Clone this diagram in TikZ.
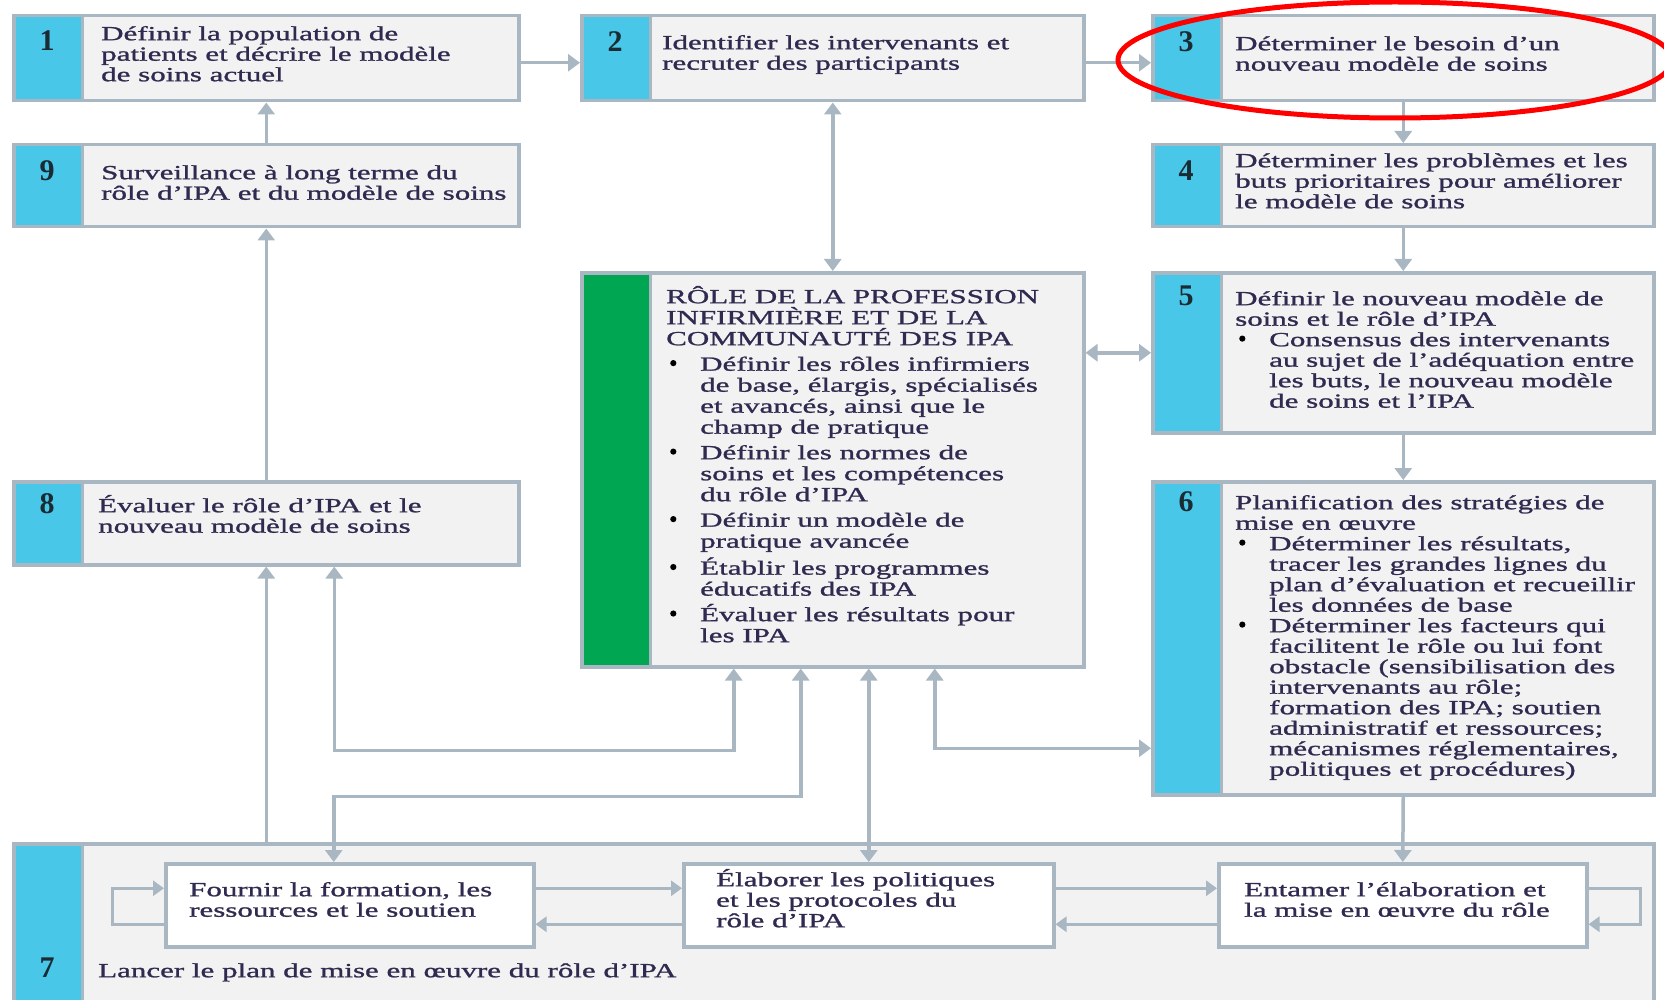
\documentclass[tikz,border=0pt]{standalone}
\usepackage{fontspec}
\setmainfont{Liberation Serif}[FakeStretch=1.55,FakeBold=1.2]
\newfontfamily\numfont{Liberation Serif}
\usetikzlibrary{arrows.meta,shapes.geometric}
\definecolor{cyanstrip}{HTML}{48C7E8}
\definecolor{greenstrip}{HTML}{00A651}
\definecolor{boxfill}{HTML}{F2F2F2}
\definecolor{lineg}{HTML}{A8B7C1}
\definecolor{txt}{HTML}{2F2A4F}
\definecolor{numc}{HTML}{1B2B33}
\newcommand\fst{\rule{0pt}{18pt}}
\newcommand\bul{\makebox[34pt][l]{\hspace{4pt}\raisebox{4.5pt}{\tikz\fill[black] (0,0) circle[radius=3.1pt];}}}
\newcommand\ind{\hspace*{34pt}}
\begin{document}
\begin{tikzpicture}[x=1pt,y=-1pt,
  stepbox/.style={draw=lineg, line width=3.5pt, fill=boxfill, rectangle, inner sep=0pt, anchor=north west,
    path picture={\fill[#1] (path picture bounding box.north west) rectangle ([xshift=69pt]path picture bounding box.south west);
      \draw[lineg, line width=3pt] ([xshift=69pt]path picture bounding box.north west) -- ([xshift=69pt]path picture bounding box.south west);}},
  stepbox/.default=cyanstrip,
  subbox/.style={draw=lineg, line width=3.5pt, fill=white, rectangle, inner sep=0pt, anchor=north west, minimum height=83pt},
  conn/.style={draw=lineg, line width=3.5pt, -{Triangle[length=12pt,width=17pt]}},
  dconn/.style={draw=lineg, line width=3.5pt, {Triangle[length=12pt,width=17pt]}-{Triangle[length=12pt,width=17pt]}},
  sconn/.style={draw=lineg, line width=3pt, -{Triangle[length=11pt,width=15pt]}},
  num/.style={font=\numfont\bfseries\fontsize{30}{30}\selectfont, text=numc, inner sep=0pt},
  lbl/.style={font=\fontsize{20}{20.5}\selectfont, text=txt, align=left, anchor=north west, inner sep=0pt},
  lblc/.style={font=\fontsize{20}{21}\selectfont, text=txt, align=left, anchor=north west, inner sep=0pt}
]
\useasboundingbox (0,0) rectangle (1664,1000);
\clip (0,0) rectangle (1664,1000);

% boxes
\node[stepbox, minimum width=505pt, minimum height=85pt] (b1) at (12,14) {};
\node[stepbox, minimum width=505pt, minimum height=82pt] (b9) at (12,143) {};
\node[stepbox, minimum width=505pt, minimum height=83pt] (b8) at (12,480) {};
\node[stepbox, minimum width=502pt, minimum height=85pt] (b2) at (580,14) {};
\node[stepbox=greenstrip, minimum width=502pt, minimum height=394pt] (bc) at (580,271) {};
\node[stepbox, minimum width=501pt, minimum height=85pt] (b3) at (1151,14) {};
\node[stepbox, minimum width=501pt, minimum height=82pt] (b4) at (1151,143) {};
\node[stepbox, minimum width=501pt, minimum height=160pt] (b5) at (1151,271) {};
\node[stepbox, minimum width=501pt, minimum height=313pt] (b6) at (1151,480) {};
\node[stepbox, minimum width=1640pt, minimum height=170pt] (b7) at (12,842) {};
\node[subbox, minimum width=368pt] (f1) at (164,862) {};
\node[subbox, minimum width=370pt] (f2) at (682,862) {};
\node[subbox, minimum width=368pt] (f3) at (1217,862) {};

% numbers
\node[num] (n1) at (47,41) {1};
\node[num] (n9) at (47,171) {9};
\node[num] (n8) at (47,504) {8};
\node[num] (n7) at (47,968) {7};
\node[num] (n2) at (615,42) {2};
\node[num] (n3) at (1186,42) {3};
\node[num] (n4) at (1186,171) {4};
\node[num] (n5) at (1186,296) {5};
\node[num] (n6) at (1186,502) {6};

% texts
\node[lbl] (t1) at (101,22) {\fst Définir la population de\\patients et décrire le modèle\\de soins actuel};
\node[lbl] (t9) at (101,161) {\fst Surveillance à long terme du\\rôle d’IPA et du modèle de soins};
\node[lbl] (t8) at (98,494) {\fst Évaluer le rôle d’IPA et le\\nouveau modèle de soins};
\node[lbl] (t2) at (662,31) {\fst Identifier les intervenants et\\recruter des participants};
\node[lbl] (t3) at (1235,32) {\fst Déterminer le besoin d’un\\nouveau modèle de soins};
\node[lbl] (t4) at (1235,149) {\fst Déterminer les problèmes et les\\buts prioritaires pour améliorer\\le modèle de soins};
\node[lbl] (t5) at (1235,287) {\fst Définir le nouveau modèle de\\soins et le rôle d’IPA\\\bul Consensus des intervenants\\\ind au sujet de l’adéquation entre\\\ind les buts, le nouveau modèle\\\ind de soins et l’IPA};
\node[lbl] (t6) at (1235,491) {\fst Planification des stratégies de\\mise en œuvre\\\bul Déterminer les résultats,\\\ind tracer les grandes lignes du\\\ind plan d’évaluation et recueillir\\\ind les données de base\\\bul Déterminer les facteurs qui\\\ind facilitent le rôle ou lui font\\\ind obstacle (sensibilisation des\\\ind intervenants au rôle;\\\ind formation des IPA; soutien\\\ind administratif et ressources;\\\ind mécanismes réglementaires,\\\ind politiques et procédures)};
\node[lblc] (tc) at (666,285) {\fst RÔLE DE LA PROFESSION\\INFIRMIÈRE ET DE LA\\COMMUNAUTÉ DES IPA\\[4.5pt]\bul Définir les rôles infirmiers\\\ind de base, élargis, spécialisés\\\ind et avancés, ainsi que le\\\ind champ de pratique\\[4.5pt]\bul Définir les normes de\\\ind soins et les compétences\\\ind du rôle d’IPA\\[4.5pt]\bul Définir un modèle de\\\ind pratique avancée\\[4.5pt]\bul Établir les programmes\\\ind éducatifs des IPA\\[4.5pt]\bul Évaluer les résultats pour\\\ind les IPA};
\node[lbl] (tf1) at (189,878) {\fst Fournir la formation, les\\ressources et le soutien};
\node[lbl] (tf2) at (716,868) {\fst Élaborer les politiques\\et les protocoles du\\rôle d’IPA};
\node[lbl] (tf3) at (1244,878) {\fst Entamer l’élaboration et\\la mise en œuvre du rôle};
\node[lbl] (t7) at (98,959) {\fst Lancer le plan de mise en œuvre du rôle d’IPA};

% connectors
\draw[conn] ([yshift=-4.5pt]b1.east) -- ([yshift=-4.5pt]b2.west);
\draw[conn] ([yshift=-4.5pt]b2.east) -- ([yshift=-4.5pt]b3.west);
\draw[conn] (b3.south) -- (b4.north);
\draw[conn] (b4.south) -- (b5.north);
\draw[conn] (b5.south) -- (b6.north);
\draw[conn] (b6.south) -- (f3.north);
\draw[dconn] (b2.south) -- (bc.north);
\draw[dconn] (bc.east |- b5.west) -- (b5.west);
\draw[conn] (b9.north) -- (b1.south);
\draw[conn] (b8.north) -- (b9.south);
\draw[conn] (b8.south |- b7.north) -- (b8.south);
\draw[dconn] ([xshift=-99pt]bc.south) -- ++(0,82) -| ([xshift=68pt]b8.south);
\draw[dconn] ([xshift=-32pt]bc.south) -- ++(0,128) -| ([xshift=-16pt]f1.north);
\draw[dconn] (bc.south -| f2.north) -- (f2.north);
\draw[dconn] ([xshift=102pt]bc.south) |- ([yshift=-110pt]b6.west);

\draw[sconn] ([yshift=17pt]f1.east) -- ([yshift=17pt]f2.west);
\draw[sconn] ([yshift=-19pt]f2.west) -- ([yshift=-19pt]f1.east);
\draw[sconn] ([yshift=17pt]f2.east) -- ([yshift=17pt]f3.west);
\draw[sconn] ([yshift=-19pt]f3.west) -- ([yshift=-19pt]f2.east);
\draw[sconn] ([yshift=-19pt]f1.west) -- ++(-52,0) |- ([yshift=17pt]f1.west);
\draw[sconn] ([yshift=17pt]f3.east) -- ++(52,0) |- ([yshift=-19pt]f3.east);

% highlight
\node[draw=red, ellipse, line width=5pt, minimum width=554pt, minimum height=116pt, inner sep=0pt] (hl) at (1395,60) {};
\end{tikzpicture}
\end{document}
